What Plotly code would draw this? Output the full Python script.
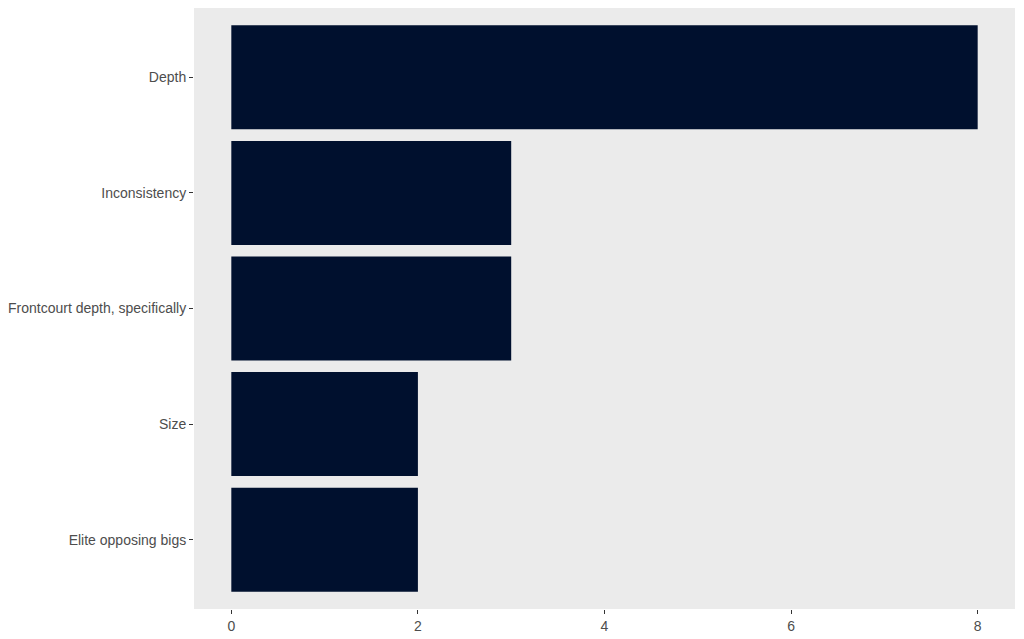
import plotly.graph_objects as go

categories = ["Elite opposing bigs", "Size", "Frontcourt depth, specifically", "Inconsistency", "Depth"]
values = [2, 2, 3, 3, 8]
x_ticks = [0, 2, 4, 6, 8]

fig = go.Figure(go.Bar(
    x=values, y=categories, orientation="h", width=0.9,
    marker=dict(color="#00102E", line=dict(width=0)),
))
fig.update_layout(
    width=1016, height=631,
    margin=dict(l=184, r=9, t=0, b=30),
    paper_bgcolor="white", plot_bgcolor="#EBEBEB",
    font=dict(family="Liberation Sans, Arial, sans-serif", size=14, color="#4D4D4D"),
    showlegend=False,
)
fig.update_xaxes(range=[-0.4, 8.4], tickvals=x_ticks, showgrid=False, zeroline=False,
                 ticks="outside", ticklen=4, tickcolor="#333333", tickwidth=1.2, showline=False)
fig.update_yaxes(range=[-0.6, 4.6], categoryorder="array", categoryarray=categories,
                 showgrid=False, zeroline=False, ticks="outside", ticklen=4,
                 tickcolor="#333333", tickwidth=1.2, showline=False)
fig.write_html("out.html")
